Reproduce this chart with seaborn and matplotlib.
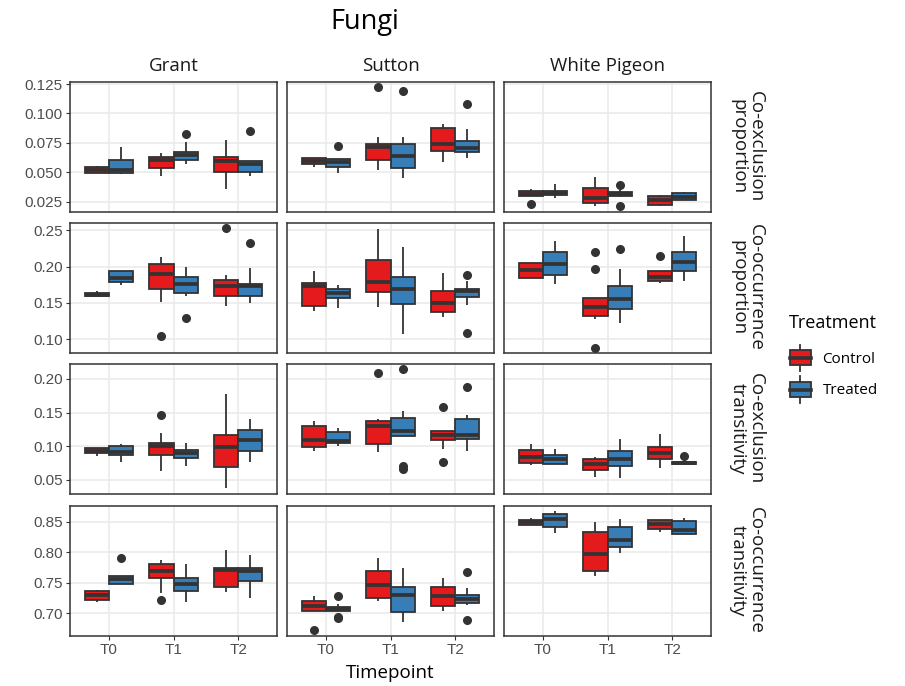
import numpy as np
import pandas as pd
import matplotlib
matplotlib.use("Agg")
import matplotlib.pyplot as plt
import seaborn as sns
from matplotlib.legend_handler import HandlerBase
from matplotlib.patches import Rectangle, Patch
from matplotlib.lines import Line2D

# ---------------- data ----------------
sites = ["Grant", "Sutton", "White Pigeon"]
timepoints = ["T0", "T1", "T2"]
treatments = ["Control", "Treated"]
metric_labels = ["Co-exclusion\nproportion", "Co-occurrence\nproportion",
                 "Co-exclusion\ntransitivity", "Co-occurrence\ntransitivity"]
treat_colors = ["#E41A1C", "#377EB8"]

# each entry: [T0 samples, T1 samples, T2 samples]
coex_prop = {
    "Grant": {
        "Control": [[.0495, .0495, .0495, .051, .052, .053, .0545, .055, .0555],
                    [.0474, .050, .0536, .058, .0605, .062, .0632, .065, .0663],
                    [.0356, .045, .050, .056, .060, .062, .0635, .070, .0775]],
        "Treated": [[.0486, .049, .0495, .051, .0522, .056, .061, .066, .0713],
                    [.0573, .059, .0609, .063, .0649, .066, .0677, .0761, .0823],
                    [.0466, .049, .0503, .055, .0572, .059, .0601, .0601, .0848]]},
    "Sutton": {
        "Control": [[.0545, .056, .0575, .059, .060, .061, .062, .062, .062],
                    [.0522, .056, .0606, .068, .0715, .073, .0739, .0798, .1228],
                    [.0586, .064, .0682, .071, .074, .082, .0879, .089, .0907]],
        "Treated": [[.0497, .052, .055, .057, .0585, .060, .0615, .0615, .0722],
                    [.0455, .050, .0542, .060, .0643, .070, .0739, .0798, .1188],
                    [.062, .065, .0677, .069, .0705, .073, .0767, .0868, .1078]]},
    "White Pigeon": {
        "Control": [[.0230, .0301, .0301, .031, .0318, .033, .0345, .035, .0363],
                    [.0216, .023, .0239, .026, .0281, .033, .0369, .042, .0465],
                    [.0219, .022, .0225, .026, .027, .028, .030, .031, .0312]],
        "Treated": [[.0281, .029, .0308, .032, .0329, .034, .0345, .0345, .0400],
                    [.0219, .029, .030, .031, .0315, .033, .0335, .036, .0394],
                    [.027, .027, .027, .028, .0295, .031, .0324, .033, .0338]]},
}

cooc_prop = {
    "Grant": {
        "Control": [[.1587, .1587, .1587, .160, .161, .162, .1633, .164, .1656],
                    [.1046, .1508, .1684, .180, .189, .198, .204, .210, .2127],
                    [.1462, .152, .1587, .168, .173, .178, .1813, .1878, .2525]],
        "Treated": [[.1748, .176, .1785, .182, .184, .190, .1942, .1942, .1942],
                    [.1287, .1591, .164, .170, .176, .182, .186, .192, .1989],
                    [.150, .155, .1591, .168, .1725, .174, .1758, .1984, .232]]},
    "Sutton": {
        "Control": [[.1393, .143, .1462, .165, .173, .175, .1776, .186, .1933],
                    [.1439, .155, .1647, .172, .1785, .195, .2095, .230, .2515],
                    [.130, .134, .1379, .145, .1494, .158, .1656, .180, .191]],
        "Treated": [[.1425, .150, .1564, .161, .1638, .166, .1684, .171, .1739],
                    [.1069, .130, .1485, .160, .1684, .178, .185, .205, .2266],
                    [.1083, .1471, .1578, .163, .1656, .167, .1684, .180, .1887]]},
    "White Pigeon": {
        "Control": [[.1845, .1845, .1845, .190, .1947, .200, .2049, .2049, .2049],
                    [.087, .1277, .1323, .138, .1439, .150, .1564, .1961, .220],
                    [.1767, .178, .1804, .183, .1855, .190, .1935, .1935, .2150]],
        "Treated": [[.1753, .182, .1878, .196, .203, .212, .2201, .228, .2354],
                    [.1222, .132, .1416, .150, .1554, .165, .1725, .197, .2247],
                    [.1795, .187, .1933, .200, .2063, .213, .2201, .232, .2418]]},
}

coex_trans = {
    "Grant": {
        "Control": [[.0853, .088, .0897, .092, .0932, .095, .0967, .0967, .0967],
                    [.0634, .075, .0863, .095, .1005, .103, .1051, .120, .1463],
                    [.038, .055, .0684, .085, .0982, .110, .117, .150, .1776]],
        "Treated": [[.0758, .082, .0872, .090, .0912, .095, .0997, .101, .1031],
                    [.0699, .076, .0823, .087, .0897, .092, .0947, .100, .1041],
                    [.0763, .085, .0922, .102, .1096, .118, .1245, .133, .1404]]},
    "Sutton": {
        "Control": [[.0932, .096, .0992, .105, .1096, .120, .1295, .134, .1379],
                    [.0912, .097, .1031, .120, .1295, .134, .1379, .1404, .2089],
                    [.0763, .0962, .1096, .113, .116, .119, .122, .122, .1578]],
        "Treated": [[.0997, .102, .1046, .106, .1081, .114, .1205, .124, .127],
                    [.0664, .0699, .1146, .118, .122, .135, .1419, .1528, .2149],
                    [.0922, .102, .1111, .114, .117, .130, .1404, .1458, .188]]},
    "White Pigeon": {
        "Control": [[.0723, .0735, .0748, .080, .0838, .089, .0937, .098, .1031],
                    [.0535, .060, .0649, .070, .0733, .078, .0813, .082, .0833],
                    [.0674, .075, .0808, .086, .0897, .094, .0982, .108, .1185]],
        "Treated": [[.0738, .0738, .0738, .078, .0813, .084, .0863, .090, .0957],
                    [.0525, .062, .0699, .076, .0813, .087, .0922, .100, .1106],
                    [.0723, .0725, .073, .074, .075, .076, .077, .077, .0848]]},
}

cooc_trans = {
    "Grant": {
        "Control": [[.718, .720, .7218, .726, .7294, .733, .7365, .737, .7375],
                    [.7215, .7327, .7575, .765, .7692, .775, .7801, .784, .7867],
                    [.7338, .738, .7425, .760, .7703, .772, .7736, .790, .803]],
        "Treated": [[.748, .748, .7485, .752, .7556, .758, .7616, .7616, .790],
                    [.718, .727, .7365, .743, .7474, .752, .7572, .770, .7801],
                    [.7256, .740, .7529, .762, .7692, .772, .7747, .785, .7954]]},
    "Sutton": {
        "Control": [[.6717, .7027, .7027, .709, .7125, .716, .7191, .723, .7273],
                    [.7191, .722, .7256, .740, .7463, .760, .7698, .780, .791],
                    [.7027, .708, .7125, .720, .7273, .735, .742, .750, .7583]],
        "Treated": [[.6915, .694, .704, .706, .7071, .708, .710, .7147, .7273],
                    [.6853, .693, .7011, .720, .730, .737, .7425, .760, .7736],
                    [.6891, .714, .7163, .720, .7234, .727, .730, .7409, .767]]},
    "White Pigeon": {
        "Control": [[.845, .845, .845, .847, .8488, .850, .852, .854, .8553],
                    [.760, .765, .7698, .785, .7965, .815, .8324, .842, .8499],
                    [.8324, .835, .8379, .842, .8455, .849, .8531, .8531, .8531]],
        "Treated": [[.8308, .836, .8417, .850, .8542, .858, .8624, .865, .8673],
                    [.7981, .803, .809, .815, .8199, .830, .8417, .848, .8542],
                    [.8292, .8292, .8292, .833, .8363, .845, .851, .853, .8553]]},
}

metric_data = [coex_prop, cooc_prop, coex_trans, cooc_trans]

row_ylims = [(0.0165, 0.1267), (0.0814, 0.2607), (0.0287, 0.2223), (0.6634, 0.8762)]
row_ticks = [[0.025, 0.050, 0.075, 0.100, 0.125],
             [0.10, 0.15, 0.20, 0.25],
             [0.05, 0.10, 0.15, 0.20],
             [0.70, 0.75, 0.80, 0.85]]
row_fmt = ["{:.3f}", "{:.2f}", "{:.2f}", "{:.2f}"]

# ---------------- long table ----------------
records = []
for mi, md in enumerate(metric_data):
    for site in sites:
        for tr in treatments:
            for ti, tp in enumerate(timepoints):
                for v in md[site][tr][ti]:
                    records.append((mi, site, tr, tp, v))
df = pd.DataFrame(records, columns=["metric", "site", "Treatment", "Timepoint", "value"])

# ---------------- styling ----------------
EDGE = "#333333"
GRID = "#EBEBEB"
plt.rcParams["font.family"] = ["Open Sans", "DejaVu Sans"]
TICKFONT = ["Liberation Sans", "DejaVu Sans"]

W, H = 905, 686
fig = plt.figure(figsize=(W / 100, H / 100), dpi=100)
fig.patch.set_facecolor("white")

col_x = [70, 287, 504]
pw = 207
row_top = [82, 222.5, 364, 505.5]
ph = 130

for ri in range(4):
    for ci, site in enumerate(sites):
        x0 = col_x[ci]
        y0 = row_top[ri]
        ax = fig.add_axes([x0 / W, 1 - (y0 + ph) / H, pw / W, ph / H])
        sub = df[(df.metric == ri) & (df.site == site)]
        ax.set_axisbelow(True)
        sns.boxplot(data=sub, x="Timepoint", y="value", hue="Treatment",
                    order=timepoints, hue_order=treatments, palette=treat_colors,
                    saturation=1, width=0.75, gap=0, linecolor=EDGE, linewidth=1.3,
                    fliersize=5.5,
                    flierprops=dict(marker="o", markerfacecolor=EDGE,
                                    markeredgecolor=EDGE),
                    medianprops=dict(linewidth=2.7, color=EDGE),
                    capprops=dict(linewidth=0),
                    legend=False, ax=ax)
        ax.set_xlim(-0.6, 2.6)
        ax.set_ylim(*row_ylims[ri])
        ax.set_yticks(row_ticks[ri])
        ax.set_xticks([0, 1, 2])
        ax.grid(True, color=GRID, linewidth=1.2)
        ax.set_facecolor("white")
        for s in ax.spines.values():
            s.set_color(EDGE)
            s.set_linewidth(1.1)
        ax.set_xlabel("")
        ax.set_ylabel("")
        ax.tick_params(axis="both", length=2.7, width=0.8, color=EDGE,
                       labelsize=11, labelcolor="#4D4D4D", pad=2.5)
        if ci == 0:
            ax.set_yticklabels([row_fmt[ri].format(t) for t in row_ticks[ri]],
                               fontfamily=TICKFONT)
        else:
            ax.tick_params(axis="y", left=False, labelleft=False)
        if ri == 3:
            ax.set_xticklabels(timepoints, fontfamily=TICKFONT)
        else:
            ax.tick_params(axis="x", bottom=False, labelbottom=False)

# column strips
for ci, site in enumerate(sites):
    fig.text((col_x[ci] + pw / 2) / W, 1 - 66 / H, site, ha="center", va="center",
             fontsize=13.5, color="#1A1A1A")
# row strips
for ri, lab in enumerate(metric_labels):
    fig.text(747 / W, 1 - (row_top[ri] + ph / 2) / H, lab, ha="center", va="center",
             rotation=-90, fontsize=13.5, color="#1A1A1A", multialignment="center",
             linespacing=1.0)

fig.text(365 / W, 1 - 22 / H, "Fungi", ha="center", va="center", fontsize=19.5)
fig.text(390 / W, 1 - 673 / H, "Timepoint", ha="center", va="center", fontsize=13.5)


class BoxHandler(HandlerBase):
    def create_artists(self, legend, orig_handle, xdescent, ydescent, width, height,
                       fontsize, trans):
        fc = orig_handle.get_facecolor()
        cx = -xdescent + width / 2
        bw = width * 0.92
        y0 = -ydescent
        bot = y0 + height * 0.22
        top = y0 + height * 0.78
        mid = y0 + height * 0.5
        w1 = Line2D([cx, cx], [y0, bot], color=EDGE, lw=1.3, transform=trans)
        w2 = Line2D([cx, cx], [top, y0 + height], color=EDGE, lw=1.3, transform=trans)
        rect = Rectangle((cx - bw / 2, bot), bw, top - bot, facecolor=fc,
                         edgecolor=EDGE, lw=1.3, transform=trans)
        med = Line2D([cx - bw / 2, cx + bw / 2], [mid, mid], color=EDGE, lw=2.6,
                     transform=trans)
        return [w1, w2, rect, med]


handles = [Patch(facecolor=c, label=t) for c, t in zip(treat_colors, treatments)]
leg = fig.legend(handles=handles, labels=treatments, title="Treatment",
                 loc="upper left", bbox_to_anchor=(789 / W, 1 - 314 / H),
                 frameon=False, fontsize=11, title_fontsize=13,
                 handler_map={Patch: BoxHandler()}, handlelength=1.5,
                 handleheight=2.3, handletextpad=0.7, labelspacing=0.35,
                 borderaxespad=0, borderpad=0)
leg._legend_box.align = "left"
leg._legend_box.sep = 9

fig.savefig("out.png", dpi=100, facecolor="white")
